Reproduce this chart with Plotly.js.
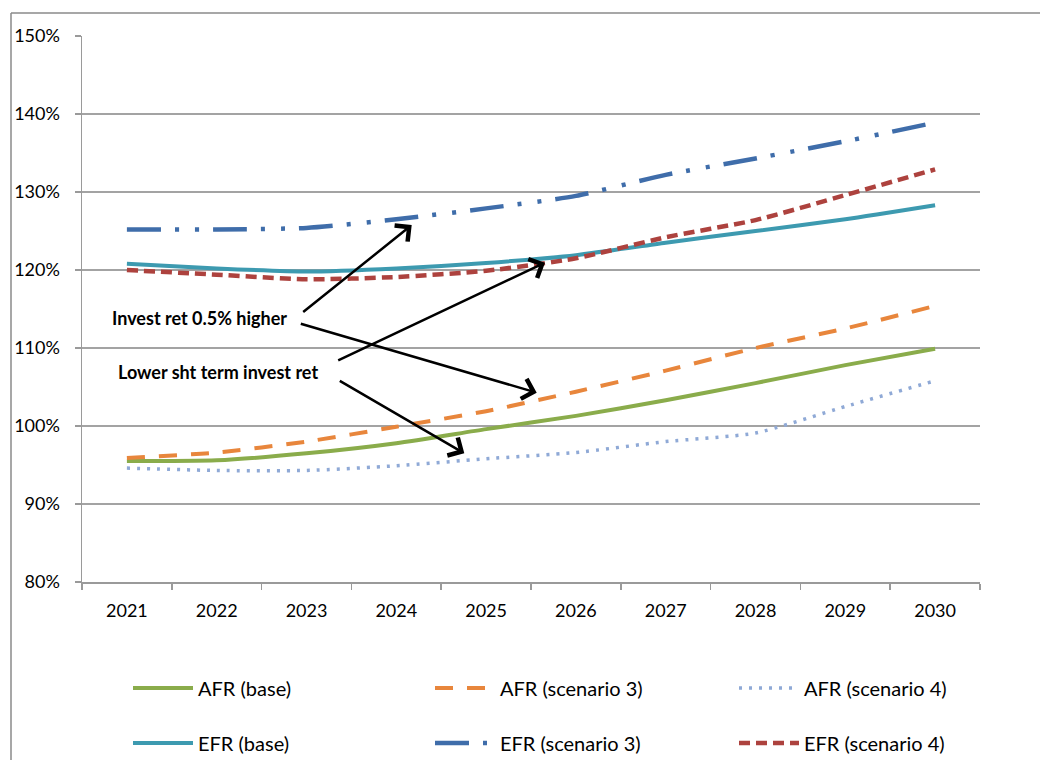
<!DOCTYPE html>
<html>
<head>
<meta charset="utf-8">
<script src="https://cdn.plot.ly/plotly-3.0.1.min.js"></script>
<style>html,body{margin:0;padding:0;background:#fff;}#chart{width:1040px;height:760px;}</style>
</head>
<body>
<div id="chart"></div>
<script>
const years = ['2021','2022','2023','2024','2025','2026','2027','2028','2029','2030'];
const afrBase = [95.5, 95.6, 96.5, 97.8, 99.6, 101.3, 103.3, 105.5, 107.8, 109.9];
const afrScen3 = [95.9, 96.6, 98.0, 99.9, 101.9, 104.4, 107.1, 110.0, 112.5, 115.4];
const afrScen4 = [94.6, 94.3, 94.3, 94.9, 95.8, 96.6, 98.0, 99.1, 102.5, 105.8];
const efrBase = [120.8, 120.2, 119.8, 120.2, 120.9, 121.9, 123.5, 125.0, 126.5, 128.3];
const efrScen3 = [125.2, 125.2, 125.4, 126.5, 127.9, 129.5, 132.2, 134.3, 136.5, 138.9];
const efrScen4 = [120.0, 119.4, 118.8, 119.1, 119.9, 121.5, 124.2, 126.4, 129.6, 132.9];
const seriesNames = ['AFR (base)','AFR (scenario 3)','AFR (scenario 4)','EFR (base)','EFR (scenario 3)','EFR (scenario 4)'];
const annotationTexts = ['Invest ret 0.5% higher','Lower sht term invest ret'];

const FONT = 'Lato, "Open Sans", sans-serif';
const legendIds = ['legend','legend2','legend3','legend4','legend5','legend6'];
function tr(i, y, color, width, dash) {
  return {x: years, y: y, name: seriesNames[i], type: 'scatter', mode: 'lines',
    line: {color: color, width: width, dash: dash, shape: 'spline', smoothing: 0.6},
    legend: legendIds[i], hoverinfo: 'skip'};
}
const data = [
  tr(0, afrBase, '#8aac4b', 4, 'solid'),
  tr(1, afrScen3, '#e8863c', 4, '18px,14px'),
  tr(2, afrScen4, '#8fa9d6', 3.5, '3px,7px'),
  tr(3, efrBase, '#3d9ab0', 4, 'solid'),
  tr(4, efrScen3, '#3f6daa', 4.5, '34px,14px,4px,16px,4px,14px'),
  tr(5, efrScen4, '#ad423e', 4.5, '11px,6px')
];

const L = 82, R = 980, T = 36, B = 582;
const PW = R - L, PH = B - T;
const px = v => (v - L) / PW;
const py = v => (B - v) / PH;

function arrow(hx, hy, tx, ty) {
  return {xref: 'paper', yref: 'paper', x: px(hx), y: py(hy), ax: tx - hx, ay: ty - hy,
    showarrow: true, arrowhead: 4, arrowsize: 1.6, arrowwidth: 2.5, arrowcolor: '#000', text: ''};
}

const legendCols = [128, 430, 734];
const legendRows = [688, 743];

const layout = {
  width: 1040, height: 760,
  margin: {l: L, r: 1040 - R, t: T, b: 760 - B, autoexpand: false},
  paper_bgcolor: '#fff', plot_bgcolor: '#fff',
  font: {family: FONT, size: 18, color: '#000'},
  showlegend: true,
  xaxis: {type: 'category', categoryorder: 'array', categoryarray: years, range: [-0.5, 9.5],
    showline: true, linecolor: '#9a9a9a', linewidth: 1.5,
    ticks: 'outside', tickson: 'boundaries', ticklen: 6, tickcolor: '#9a9a9a', tickwidth: 1.5,
    showgrid: false, zeroline: false, tickfont: {family: FONT, size: 18, color: '#000'}, ticklabelstandoff: 12},
  yaxis: {range: [80, 150], dtick: 10, tick0: 80, ticksuffix: '%',
    showline: true, linecolor: '#9a9a9a', linewidth: 1.5,
    ticks: 'outside', ticklen: 6, tickcolor: '#9a9a9a', tickwidth: 1.5,
    showgrid: true, gridcolor: '#a3a3a3', gridwidth: 1.5, zeroline: false,
    tickfont: {family: FONT, size: 18, color: '#000'}, ticklabelstandoff: 11},
  shapes: [
    {type: 'line', xref: 'paper', yref: 'paper', x0: px(11), x1: px(11), y0: py(13), y1: py(760), line: {color: '#8a8a8a', width: 1.5}},
    {type: 'line', xref: 'paper', yref: 'paper', x0: px(11), x1: px(1040), y0: py(13), y1: py(13), line: {color: '#8a8a8a', width: 1.5}}
  ],
  annotations: [
    arrow(411.7, 225, 301.7, 313.3),
    arrow(536.7, 392.7, 299.3, 323.3),
    arrow(545, 262.7, 336.7, 361),
    arrow(464.3, 453.3, 338.3, 380),
    {xref: 'paper', yref: 'paper', x: px(199), y: py(318), text: '<b>' + annotationTexts[0] + '</b>', showarrow: false,
      font: {family: FONT, size: 18, color: '#000'}, xanchor: 'center', yanchor: 'middle'},
    {xref: 'paper', yref: 'paper', x: px(218), y: py(372), text: '<b>' + annotationTexts[1] + '</b>', showarrow: false,
      font: {family: FONT, size: 18, color: '#000'}, xanchor: 'center', yanchor: 'middle'}
  ]
};
legendIds.forEach((id, i) => {
  layout[id] = {orientation: 'v', xanchor: 'left', yanchor: 'middle',
    x: px(legendCols[i % 3]), y: py(legendRows[Math.floor(i / 3)]),
    itemwidth: 60, font: {family: FONT, size: 20, color: '#000'},
    bgcolor: 'rgba(0,0,0,0)', borderwidth: 0};
});

Plotly.newPlot('chart', data, layout, {displayModeBar: false, staticPlot: true});
</script>
</body>
</html>
